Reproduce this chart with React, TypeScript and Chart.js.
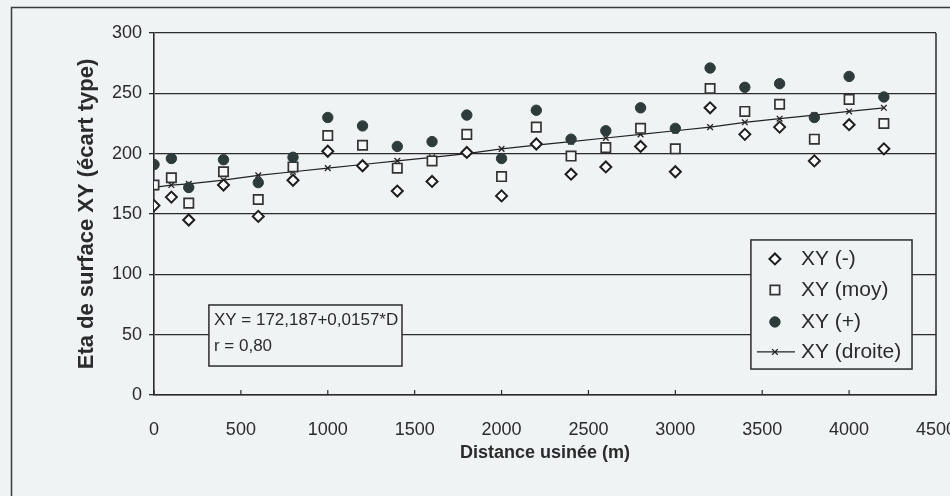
import React, { useEffect, useRef } from "react";
import { Chart, registerables } from "chart.js";

Chart.register(...registerables);

// ---------- data ----------
const distances = [0, 100, 200, 400, 600, 800, 1000, 1200, 1400, 1600, 1800, 2000, 2200, 2400, 2600, 2800, 3000, 3200, 3400, 3600, 3800, 4000, 4200];
const xyMinus = [157, 164, 145, 174, 148, 178, 202, 190, 169, 177, 201, 165, 208, 183, 189, 206, 185, 238, 216, 222, 194, 224, 204];
const xyMoy = [174, 180, 159, 185, 162, 189, 215, 207, 188, 194, 216, 181, 222, 198, 205, 221, 204, 254, 235, 241, 212, 245, 225];
const xyPlus = [191, 196, 172, 195, 176, 197, 230, 223, 206, 210, 232, 196, 236, 212, 219, 238, 221, 271, 255, 258, 230, 264, 247];
const xyDroite = [172, 174, 175, 178, 182, 185, 188, 191, 194, 197, 200, 204, 207, 210, 213, 216, 219, 222, 226, 229, 232, 235, 238];

const seriesLabels = ["XY (-)", "XY (moy)", "XY (+)", "XY (droite)"];
const equationLines = ["XY = 172,187+0,0157*D", "r = 0,80"];
const xTitle = "Distance usinée (m)";
const yTitle = "Eta de surface XY (écart type)";
const xRange = [0, 4500];
const yRange = [0, 300];
const xStep = 500;
const yStep = 50;

// ---------- styles ----------
const BG = "#eff3f4";
const INK = "#2b2b2b";
const FONT = '"Liberation Sans", Arial, Helvetica, sans-serif';

const toPoints = (ys: number[]) => ys.map((y, i) => ({ x: distances[i], y }));

function drawMarker(
  ctx: CanvasRenderingContext2D,
  style: string,
  x: number,
  y: number,
  r: number,
  fill: string,
  stroke: string,
  lw: number
) {
  ctx.save();
  ctx.beginPath();
  ctx.fillStyle = fill;
  ctx.strokeStyle = stroke;
  ctx.lineWidth = lw;
  if (style === "rectRot") {
    ctx.moveTo(x - r, y);
    ctx.lineTo(x, y - r);
    ctx.lineTo(x + r, y);
    ctx.lineTo(x, y + r);
    ctx.closePath();
    ctx.fill();
    ctx.stroke();
  } else if (style === "rect") {
    const s = r * Math.SQRT1_2;
    ctx.rect(x - s, y - s, 2 * s, 2 * s);
    ctx.fill();
    ctx.stroke();
  } else if (style === "circle") {
    ctx.arc(x, y, r, 0, Math.PI * 2);
    ctx.fill();
    ctx.stroke();
  } else if (style === "crossRot") {
    const o = Math.cos(Math.PI / 4) * r;
    ctx.moveTo(x - o, y - o);
    ctx.lineTo(x + o, y + o);
    ctx.moveTo(x + o, y - o);
    ctx.lineTo(x - o, y + o);
    ctx.stroke();
  }
  ctx.restore();
}

const backgroundPlugin = {
  id: "bgFrame",
  beforeDraw(chart: any) {
    const { ctx, width, height } = chart;
    ctx.save();
    ctx.fillStyle = BG;
    ctx.fillRect(0, 0, width, height);
    ctx.strokeStyle = "#3a3a3a";
    ctx.lineWidth = 1.5;
    ctx.beginPath();
    ctx.moveTo(11.5, height + 5);
    ctx.lineTo(11.5, 7.5);
    ctx.lineTo(width + 5, 7.5);
    ctx.stroke();
    ctx.restore();
  },
};

const overlayPlugin = {
  id: "overlay",
  afterDraw(chart: any) {
    const { ctx, chartArea, scales } = chart;
    const xs = scales.x;
    const ys = scales.y;
    ctx.save();
    // right border of plot
    ctx.strokeStyle = INK;
    ctx.lineWidth = 1.5;
    ctx.beginPath();
    ctx.moveTo(chartArea.right, chartArea.top);
    ctx.lineTo(chartArea.right, chartArea.bottom);
    ctx.stroke();
    // inward x tick marks
    ctx.lineWidth = 1.2;
    for (let v = xRange[0]; v <= xRange[1]; v += xStep) {
      const px = xs.getPixelForValue(v);
      ctx.beginPath();
      ctx.moveTo(px, chartArea.bottom);
      ctx.lineTo(px, chartArea.bottom - 5);
      ctx.stroke();
    }

    // equation box
    const bx1 = xs.getPixelForValue(316);
    const bx2 = xs.getPixelForValue(1427);
    const by1 = ys.getPixelForValue(74.6);
    const by2 = ys.getPixelForValue(24);
    ctx.fillStyle = BG;
    ctx.fillRect(bx1, by1, bx2 - bx1, by2 - by1);
    ctx.strokeStyle = INK;
    ctx.lineWidth = 1.5;
    ctx.strokeRect(bx1, by1, bx2 - bx1, by2 - by1);
    ctx.fillStyle = INK;
    ctx.font = `17px ${FONT}`;
    ctx.textAlign = "left";
    ctx.textBaseline = "middle";
    equationLines.forEach((t, i) => {
      ctx.fillText(t, bx1 + 5, by1 + 15 + i * 26);
    });

    // legend box
    const lx1 = xs.getPixelForValue(3435);
    const lx2 = xs.getPixelForValue(4362);
    const ly1 = ys.getPixelForValue(128.5);
    const ly2 = ys.getPixelForValue(21.5);
    ctx.fillStyle = BG;
    ctx.fillRect(lx1, ly1, lx2 - lx1, ly2 - ly1);
    ctx.strokeStyle = INK;
    ctx.lineWidth = 1.5;
    ctx.strokeRect(lx1, ly1, lx2 - lx1, ly2 - ly1);
    const rowOffsets = [19, 50, 82, 112];
    chart.data.datasets.forEach((ds: any, i: number) => {
      const cy = ly1 + rowOffsets[i];
      const mx = lx1 + 24;
      if (ds.showLine) {
        ctx.strokeStyle = ds.borderColor;
        ctx.lineWidth = ds.borderWidth;
        ctx.beginPath();
        ctx.moveTo(lx1 + 6, cy);
        ctx.lineTo(lx1 + 44, cy);
        ctx.stroke();
      }
      drawMarker(
        ctx,
        ds.pointStyle,
        mx,
        cy,
        ds.pointRadius,
        ds.pointBackgroundColor,
        ds.pointBorderColor,
        ds.pointBorderWidth
      );
      ctx.fillStyle = INK;
      ctx.font = `21px ${FONT}`;
      ctx.textAlign = "left";
      ctx.textBaseline = "middle";
      ctx.fillText(ds.label, lx1 + 50, cy);
    });
    ctx.restore();
  },
};

export default function App() {
  const ref = useRef<HTMLCanvasElement>(null);

  useEffect(() => {
    if (!ref.current) return;
    const chart = new Chart(ref.current, {
      type: "scatter",
      data: {
        datasets: [
          {
            label: seriesLabels[0],
            data: toPoints(xyMinus),
            pointStyle: "rectRot",
            pointRadius: 5.5,
            pointBackgroundColor: "#ffffff",
            pointBorderColor: "#1e1e1e",
            pointBorderWidth: 2,
            order: 3,
          },
          {
            label: seriesLabels[1],
            data: toPoints(xyMoy),
            pointStyle: "rect",
            pointRadius: 6.6,
            pointBackgroundColor: "#f6f8f8",
            pointBorderColor: "#333333",
            pointBorderWidth: 1.7,
            order: 2,
          },
          {
            label: seriesLabels[2],
            data: toPoints(xyPlus),
            pointStyle: "circle",
            pointRadius: 5.2,
            pointBackgroundColor: "#2e3b3b",
            pointBorderColor: "#2e3b3b",
            pointBorderWidth: 1,
            order: 1,
          },
          {
            label: seriesLabels[3],
            data: toPoints(xyDroite),
            showLine: true,
            borderColor: "#222222",
            borderWidth: 1.2,
            pointStyle: "crossRot",
            pointRadius: 4,
            pointBackgroundColor: "#222222",
            pointBorderColor: "#222222",
            pointBorderWidth: 1.3,
            order: 4,
          },
        ] as any,
      },
      options: {
        animation: false,
        responsive: false,
        devicePixelRatio: 1,
        events: [],
        layout: { padding: { left: 0, right: 14, top: 33, bottom: 0 } },
        plugins: {
          legend: { display: false },
          tooltip: { enabled: false },
        },
        scales: {
          x: {
            type: "linear",
            min: xRange[0],
            max: xRange[1],
            ticks: {
              stepSize: xStep,
              padding: 16.2,
              color: INK,
              maxRotation: 0,
              font: { family: FONT, size: 18 },
              callback: (v: any) => String(v),
            },
            grid: { display: false },
            border: { display: true, color: INK, width: 1.6 },
            title: {
              display: true,
              text: xTitle,
              color: INK,
              font: { family: FONT, size: 18, weight: "bold" },
              padding: { top: 0, bottom: 32.2 },
            },
            afterFit(scale: any) {
              scale.height = 101;
              scale.paddingLeft = 0;
              scale.paddingRight = 0;
            },
          },
          y: {
            type: "linear",
            min: yRange[0],
            max: yRange[1],
            ticks: {
              stepSize: yStep,
              padding: 7,
              color: INK,
              font: { family: FONT, size: 18 },
              callback: (v: any) => String(v),
            },
            grid: {
              color: INK,
              lineWidth: 1.3,
              drawTicks: true,
              tickLength: 5,
            },
            border: { display: true, color: INK, width: 1.6 },
            title: {
              display: true,
              text: yTitle,
              color: INK,
              font: { family: FONT, size: 22, weight: "bold" },
              padding: { top: 73.8, bottom: 0 },
            },
            afterFit(scale: any) {
              scale.width = 154;
              scale.paddingTop = 0;
              scale.paddingBottom = 0;
            },
          },
        },
      } as any,
      plugins: [backgroundPlugin, overlayPlugin],
    });
    return () => chart.destroy();
  }, []);

  return (
    <div style={{ position: "fixed", left: 0, top: 0, width: 950, height: 496, background: BG }}>
      <canvas ref={ref} width={950} height={496} style={{ display: "block", width: 950, height: 496 }} />
    </div>
  );
}
